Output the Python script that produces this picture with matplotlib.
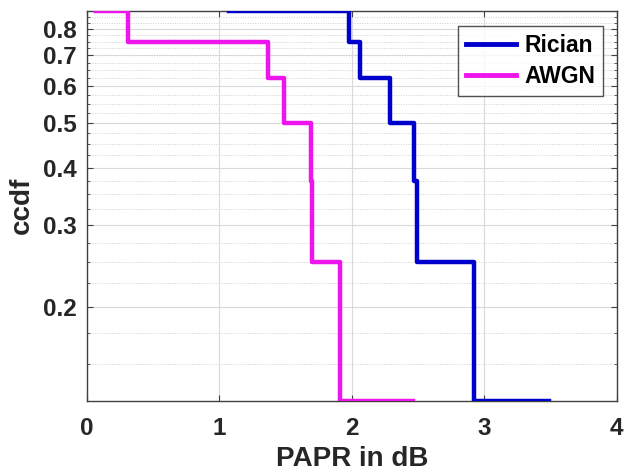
import numpy as np
import matplotlib
matplotlib.use("Agg")
import matplotlib.pyplot as plt
from matplotlib.ticker import FixedLocator, NullFormatter

# step data (PAPR in dB, ccdf level)
rician_papr = [1.07, 1.98, 2.06, 2.29, 2.47, 2.49, 2.92, 3.49]
rician_ccdf = [0.875, 0.75, 0.625, 0.5, 0.375, 0.25, 0.125, 0.125]
awgn_papr = [0.07, 0.31, 1.37, 1.49, 1.69, 1.70, 1.91, 2.46]
awgn_ccdf = [0.875, 0.75, 0.625, 0.5, 0.375, 0.25, 0.125, 0.125]

x_ticks = [0, 1, 2, 3, 4]
y_ticks = [0.2, 0.3, 0.4, 0.5, 0.6, 0.7, 0.8]
y_tick_labels = ["0.2", "0.3", "0.4", "0.5", "0.6", "0.7", "0.8"]

plt.rcParams['font.family'] = ['Liberation Sans', 'DejaVu Sans']
plt.rcParams['font.weight'] = 'bold'

fig = plt.figure(figsize=(6.25, 4.74), dpi=100)
ax = fig.add_axes([0.139, 0.1546, 0.848, 0.8228])

ax.plot(rician_papr, rician_ccdf, drawstyle='steps-post', color='#0000cc', lw=3.2, label='Rician', zorder=3)
ax.plot(awgn_papr, awgn_ccdf, drawstyle='steps-post', color='#ee14ee', lw=3.2, label='AWGN', zorder=3)

ax.set_yscale('log')
ax.set_xlim(0, 4)
ax.set_ylim(0.125, 0.875)

ax.xaxis.set_major_locator(FixedLocator(x_ticks))
ax.set_xticklabels([str(t) for t in x_ticks])
ax.yaxis.set_major_locator(FixedLocator(y_ticks))
ax.set_yticklabels(y_tick_labels)
minor = [round(v, 3) for v in np.arange(0.125, 0.876, 0.025) if round(v, 3) not in y_ticks]
ax.yaxis.set_minor_locator(FixedLocator(minor))
ax.yaxis.set_minor_formatter(NullFormatter())

ax.tick_params(axis='both', which='major', direction='in', length=4, labelsize=17.5,
               top=True, right=True, color='#404040')
ax.tick_params(axis='x', which='major', pad=12)
ax.tick_params(axis='y', which='major', pad=7)
ax.tick_params(axis='y', which='minor', direction='in', length=2.5, right=True, color='#404040')

ax.grid(True, which='major', color='#d9d9d9', lw=0.8, ls='-')
ax.grid(True, which='minor', axis='y', color='#d0d0d0', lw=0.7, ls=(0, (1, 1.5)))
ax.set_axisbelow(True)

for s in ax.spines.values():
    s.set_color('#404040')
    s.set_linewidth(1.0)

ax.set_xlabel('PAPR in dB', fontsize=20, fontweight='bold', color='#262626', labelpad=4)
ax.set_ylabel('ccdf', fontsize=20, fontweight='bold', color='#262626', labelpad=6)
for lbl in ax.get_xticklabels() + ax.get_yticklabels():
    lbl.set_color('#262626')

leg = ax.legend(loc='upper right', bbox_to_anchor=(0.974, 0.96), fontsize=16.5, frameon=True,
                fancybox=False, edgecolor='#262626', handlelength=2.2, handletextpad=0.35,
                borderpad=0.35, labelspacing=0.35, borderaxespad=0)
leg.get_frame().set_linewidth(1.0)
for line in leg.get_lines():
    line.set_linewidth(3.5)

fig.savefig('out.png', dpi=100)
